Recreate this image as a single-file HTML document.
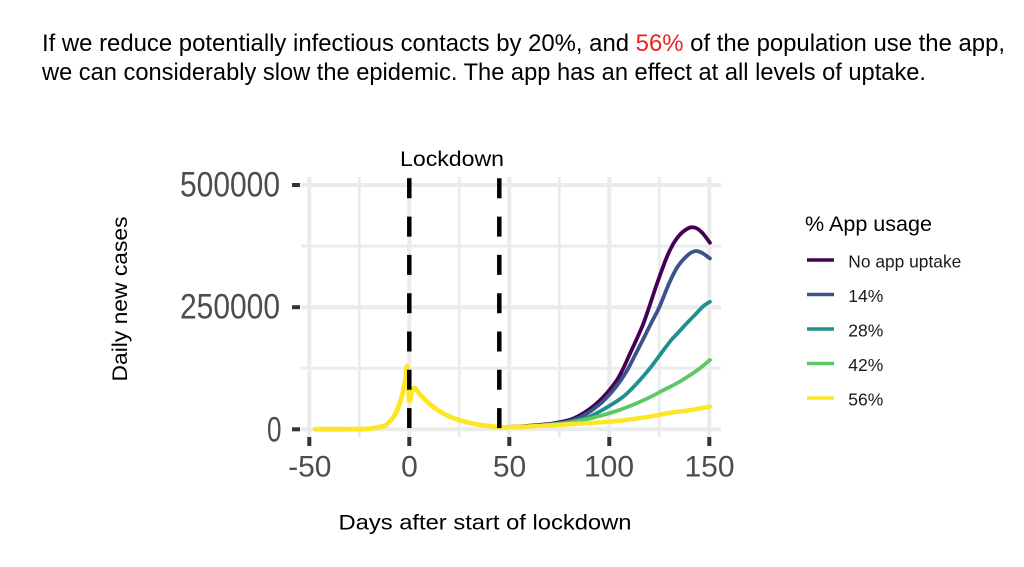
<!DOCTYPE html>
<html>
<head>
<meta charset="utf-8">
<style>
html,body{margin:0;padding:0;background:#fff;}
svg{display:block;}
text{font-family:"Liberation Sans",Arial,sans-serif;}
</style>
</head>
<body>
<svg id="chart" width="1024" height="567" viewBox="0 0 1024 567" xmlns="http://www.w3.org/2000/svg">
<rect x="0" y="0" width="1024" height="567" fill="#fff"/>

<!-- Title -->
<text x="42" y="51" font-size="24" fill="#000" textLength="963" lengthAdjust="spacingAndGlyphs">If we reduce potentially infectious contacts by 20%, and <tspan fill="#f01e1e">56%</tspan> of the population use the app,</text>
<text x="42" y="80" font-size="24" fill="#000" textLength="884" lengthAdjust="spacingAndGlyphs">we can considerably slow the epidemic. The app has an effect at all levels of uptake.</text>

<!-- Grid: minor -->
<g stroke="#ebebeb" stroke-width="2.7" fill="none">
  <line x1="359.3" y1="177" x2="359.3" y2="437"/>
  <line x1="459.3" y1="177" x2="459.3" y2="437"/>
  <line x1="559.3" y1="177" x2="559.3" y2="437"/>
  <line x1="659.3" y1="177" x2="659.3" y2="437"/>
  <line x1="301" y1="246.1" x2="721" y2="246.1"/>
  <line x1="301" y1="368.2" x2="721" y2="368.2"/>
</g>
<!-- Grid: major -->
<g stroke="#ebebeb" stroke-width="4" fill="none">
  <line x1="309.3" y1="177" x2="309.3" y2="437"/>
  <line x1="409.3" y1="177" x2="409.3" y2="437"/>
  <line x1="509.3" y1="177" x2="509.3" y2="437"/>
  <line x1="609.3" y1="177" x2="609.3" y2="437"/>
  <line x1="709.3" y1="177" x2="709.3" y2="437"/>
  <line x1="301" y1="185" x2="721" y2="185"/>
  <line x1="301" y1="307.2" x2="721" y2="307.2"/>
  <line x1="301" y1="429.3" x2="721" y2="429.3"/>
</g>

<!-- Series -->
<g id="series" fill="none" stroke-linejoin="round" stroke-linecap="round">
  <polyline stroke="#440154" stroke-width="3.8" points="499.3,427.1 519.3,426.4 539.3,424.9 553.3,423.4 569.3,420.0 579.3,415.6 589.3,409.3 599.3,401.0 609.3,390.2 617.3,379.5 623.3,368.3 629.3,355.1 636.7,339.0 643.3,323.8 649.1,307.2 657.3,282.8 666.7,257.4 673.3,243.7 679.3,235.4 685.3,230.0 691.3,227.3 697.3,228.6 703.3,234 709.9,242.7"/>
  <polyline stroke="#3b528b" stroke-width="3.8" points="499.3,427.1 519.3,426.8 539.3,425.4 557.3,423.4 573.3,420.0 583.3,415.6 593.3,409.3 603.3,401.0 613.3,390.2 621.3,379.5 628.3,368.3 635.3,354.6 643.3,339.0 651.3,322.8 659.3,307.2 669.3,282.8 677.3,267.2 685.3,257.4 691.3,252.5 696.1,251.0 701.3,252.5 705.3,255 709.9,258.4"/>
  <polyline stroke="#21908c" stroke-width="3.8" points="499.3,427.1 529.3,426.6 563.3,423.4 577.3,420.5 589.9,416.6 605.3,408.3 623.3,396.6 637.3,382.9 649.9,368.3 661.3,353.1 671.3,339.9 677.3,333.6 686.7,323.3 695.3,314.5 703.3,306.2 709.9,301.8"/>
  <polyline stroke="#5dc863" stroke-width="3.8" points="499.3,427.1 519.3,426.9 546.7,424.9 565.3,423 583.3,420 601.3,415.6 619.9,409.8 635.3,403.9 651.3,396.6 663.3,390.2 676.7,383.4 689.3,375.6 699.9,368.3 709.9,360"/>
  <polyline stroke="#fde725" stroke-width="4.4" points="499.3,427.3 526.7,426.6 549.3,425.4 583.3,423.4 609.3,421.7 629.3,419.5 649.9,416.6 669.3,412.9 689.3,410.3 709.9,406.6"/>
  <polyline stroke="#fde725" stroke-width="4.8" points="315.3,429.2 339.3,429.2 359.3,429.1 369.3,428.7 379.3,427.0 385.3,425.6 389.3,421.8 393.3,417.2 397.3,410.0 401.3,398.4 403.3,390.2 405.3,380 407.3,366.8 409.3,400 412,391 415,388.3 419.3,393.6 429.3,403.7 439.3,411.1 449.3,416.4 459.3,420.1 469.3,422.8 479.3,424.7 489.3,426 499.3,427.3"/>
</g>

<!-- Dashed lockdown lines -->
<g stroke="#000" stroke-width="4.5" stroke-dasharray="20 18.3" fill="none">
  <line x1="409.3" y1="178.3" x2="409.3" y2="430"/>
  <line x1="499.3" y1="178.3" x2="499.3" y2="430"/>
</g>
<text x="452" y="166" font-size="21" fill="#000" text-anchor="middle" textLength="104" lengthAdjust="spacingAndGlyphs">Lockdown</text>

<!-- Y axis ticks and labels -->
<g fill="#333">
  <rect x="292" y="183" width="8" height="4"/>
  <rect x="292" y="305.2" width="8" height="4"/>
  <rect x="292" y="427.3" width="8" height="4"/>
</g>
<g fill="#4d4d4d" font-size="35">
  <text x="180" y="196.6" textLength="100" lengthAdjust="spacingAndGlyphs">500000</text>
  <text x="180" y="318.4" textLength="100" lengthAdjust="spacingAndGlyphs">250000</text>
  <text x="267" y="441.5" textLength="14.5" lengthAdjust="spacingAndGlyphs">0</text>
</g>

<!-- X axis ticks and labels -->
<g fill="#333">
  <rect x="307.3" y="437" width="4" height="9"/>
  <rect x="407.3" y="437" width="4" height="9"/>
  <rect x="507.3" y="437" width="4" height="9"/>
  <rect x="607.3" y="437" width="4" height="9"/>
  <rect x="707.3" y="437" width="4" height="9"/>
</g>
<g fill="#4d4d4d" font-size="30" text-anchor="middle">
  <text x="309.8" y="476.5">-50</text>
  <text x="409.5" y="476.5">0</text>
  <text x="509.5" y="476.5">50</text>
  <text x="609" y="476.5">100</text>
  <text x="709.5" y="476.5">150</text>
</g>

<!-- Axis titles -->
<text transform="translate(127,299) rotate(-90)" font-size="21" fill="#000" text-anchor="middle" textLength="165" lengthAdjust="spacingAndGlyphs">Daily new cases</text>
<text x="485" y="529.5" font-size="21" fill="#000" text-anchor="middle" textLength="293" lengthAdjust="spacingAndGlyphs">Days after start of lockdown</text>

<!-- Legend -->
<text x="805" y="231" font-size="21" fill="#000" textLength="127" lengthAdjust="spacingAndGlyphs">% App usage</text>
<g stroke-width="3.4">
  <line x1="807" y1="260" x2="834" y2="260" stroke="#440154"/>
  <line x1="807" y1="294.5" x2="834" y2="294.5" stroke="#3b528b"/>
  <line x1="807" y1="329" x2="834" y2="329" stroke="#21908c"/>
  <line x1="807" y1="363.5" x2="834" y2="363.5" stroke="#5dc863"/>
  <line x1="807" y1="398" x2="834" y2="398" stroke="#fde725"/>
</g>
<g fill="#1a1a1a" font-size="17.5">
  <text x="848.3" y="267.6" textLength="113" lengthAdjust="spacingAndGlyphs">No app uptake</text>
  <text x="848.3" y="302.1">14%</text>
  <text x="848.3" y="336.6">28%</text>
  <text x="848.3" y="371.1">42%</text>
  <text x="848.3" y="405.6">56%</text>
</g>
</svg>
<script>
(function(){
  var NS="http://www.w3.org/2000/svg";
  var g=document.getElementById("series");
  if(!g) return;
  var pls=Array.prototype.slice.call(g.getElementsByTagName("polyline"));
  pls.forEach(function(pl){
    var raw=pl.getAttribute("points").trim().split(/\s+/).map(function(s){var a=s.split(",");return [parseFloat(a[0]),parseFloat(a[1])];});
    if(raw.length<3) return;
    var d="M"+raw[0][0]+","+raw[0][1];
    for(var i=0;i<raw.length-1;i++){
      var p0=raw[i>0?i-1:i],p1=raw[i],p2=raw[i+1],p3=raw[i+2<raw.length?i+2:i+1];
      var t=6;
      var c1x=p1[0]+(p2[0]-p0[0])/t,c1y=p1[1]+(p2[1]-p0[1])/t;
      var c2x=p2[0]-(p3[0]-p1[0])/t,c2y=p2[1]-(p3[1]-p1[1])/t;
      d+=" C"+c1x.toFixed(2)+","+c1y.toFixed(2)+" "+c2x.toFixed(2)+","+c2y.toFixed(2)+" "+p2[0]+","+p2[1];
    }
    var path=document.createElementNS(NS,"path");
    path.setAttribute("d",d);
    path.setAttribute("stroke",pl.getAttribute("stroke"));
    path.setAttribute("stroke-width",pl.getAttribute("stroke-width"));
    path.setAttribute("fill","none");
    g.insertBefore(path,pl);
    g.removeChild(pl);
  });
})();
</script>
</body>
</html>
